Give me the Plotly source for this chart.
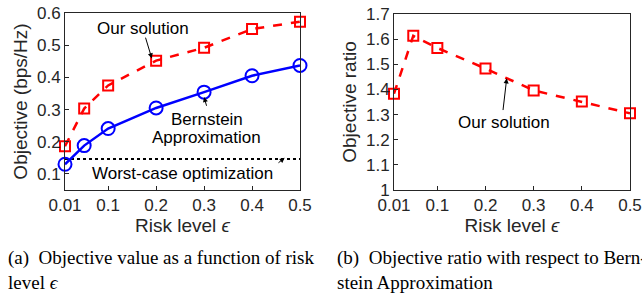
import plotly.graph_objects as go

# ---- data ----
risk_levels = [0.01, 0.05, 0.1, 0.2, 0.3, 0.4, 0.5]
our_solution = [0.186, 0.303, 0.375, 0.452, 0.492, 0.550, 0.573]
bernstein = [0.130, 0.188, 0.241, 0.305, 0.354, 0.405, 0.437]
worst_case_eps = [0.01, 0.5]
worst_case = [0.146, 0.146]
objective_ratio = [1.383, 1.613, 1.565, 1.483, 1.396, 1.352, 1.305]
x_tick_vals = [0.01, 0.1, 0.2, 0.3, 0.4, 0.5]
x_tick_text = ["0.01", "0.1", "0.2", "0.3", "0.4", "0.5"]
y1_tick_vals = [0.1, 0.2, 0.3, 0.4, 0.5, 0.6]
y2_tick_vals = [1.0, 1.1, 1.2, 1.3, 1.4, 1.5, 1.6, 1.7]
y2_tick_text = ["1", "1.1", "1.2", "1.3", "1.4", "1.5", "1.6", "1.7"]

RED = "#FF0000"
BLUE = "#0000FF"
AX = "#262626"
SANS = "Liberation Sans, Arial, sans-serif"
SERIF = "Liberation Serif, Times New Roman, serif"

fig = go.Figure()

fig.add_trace(go.Scatter(x=worst_case_eps, y=worst_case, mode="lines",
                         line=dict(color="black", width=2, dash="dot"),
                         xaxis="x", yaxis="y", showlegend=False))
fig.add_trace(go.Scatter(x=risk_levels, y=our_solution, mode="lines+markers",
                         line=dict(color=RED, width=2.5, dash="dash"),
                         marker=dict(symbol="square-open", size=10, color=RED,
                                     line=dict(width=2, color=RED)),
                         cliponaxis=False, xaxis="x", yaxis="y", showlegend=False))
fig.add_trace(go.Scatter(x=risk_levels, y=bernstein, mode="lines+markers",
                         line=dict(color=BLUE, width=2.5),
                         marker=dict(symbol="circle-open", size=13, color=BLUE,
                                     line=dict(width=2, color=BLUE)),
                         cliponaxis=False, xaxis="x", yaxis="y", showlegend=False))
fig.add_trace(go.Scatter(x=risk_levels, y=objective_ratio, mode="lines+markers",
                         line=dict(color=RED, width=2.5, dash="dash"),
                         marker=dict(symbol="square-open", size=10, color=RED,
                                     line=dict(width=2, color=RED)),
                         cliponaxis=False, xaxis="x2", yaxis="y2", showlegend=False))

axis_common = dict(showline=True, linecolor=AX, linewidth=1, mirror=True, automargin=False,
                   ticks="inside", ticklen=4, tickcolor=AX, showgrid=False,
                   zeroline=False, tickfont=dict(family=SANS, size=17, color=AX))
title_font = dict(family=SANS, size=19, color=AX)

fig.update_layout(
    width=642, height=296,
    margin=dict(l=0, r=0, t=0, b=0),
    paper_bgcolor="white", plot_bgcolor="white",
    xaxis=dict(domain=[65/642, 300/642], range=[0.01, 0.5], anchor="y",
               tickvals=x_tick_vals, ticktext=x_tick_text,
               title=dict(text="Risk level <i>ϵ</i>", font=title_font, standoff=2),
               **axis_common),
    yaxis=dict(domain=[1-190/296, 1-13/296], range=[0.05, 0.6], anchor="x",
               tickvals=y1_tick_vals,
               title=dict(text="Objective (bps/Hz)", font=title_font, standoff=4),
               **axis_common),
    xaxis2=dict(domain=[394/642, 630/642], range=[0.01, 0.5], anchor="y2",
                tickvals=x_tick_vals, ticktext=x_tick_text,
                title=dict(text="Risk level <i>ϵ</i>", font=title_font, standoff=2),
                **axis_common),
    yaxis2=dict(domain=[1-190/296, 1-14/296], range=[1.0, 1.7], anchor="x2",
                tickvals=y2_tick_vals, ticktext=y2_tick_text,
                title=dict(text="Objective ratio", font=title_font, standoff=4),
                **axis_common),
)

arrow = dict(showarrow=True, arrowhead=2, arrowsize=1, arrowwidth=1, arrowcolor="black",
             text="", axref="x", ayref="y")
fig.add_annotation(x=0.191, y=0.459, ax=0.177, ay=0.528, xref="x", yref="y", **arrow)
fig.add_annotation(x=0.300, y=0.339, ax=0.306, ay=0.307, xref="x", yref="y", **arrow)
fig.add_annotation(x=0.468, y=0.150, ax=0.452, ay=0.131, xref="x", yref="y", **arrow)
arrow2 = dict(arrow)
arrow2.update(axref="x2", ayref="y2")
fig.add_annotation(x=0.244, y=1.444, ax=0.236, ay=1.312, xref="x2", yref="y2", **arrow2)

lbl = dict(showarrow=False, font=dict(family=SANS, size=17, color="black"))
fig.add_annotation(x=0.1725, y=0.553, text="Our solution", xref="x", yref="y", **lbl)
fig.add_annotation(x=0.306, y=0.269, text="Bernstein", xref="x", yref="y", **lbl)
fig.add_annotation(x=0.306, y=0.213, text="Approximation", xref="x", yref="y", **lbl)
fig.add_annotation(x=0.254, y=0.100, text="Worst-case optimization", xref="x", yref="y", **lbl)
fig.add_annotation(x=0.238, y=1.268, text="Our solution", xref="x2", yref="y2", **lbl)

cap = dict(showarrow=False, xref="paper", yref="paper", xanchor="left", yanchor="middle",
           font=dict(family=SERIF, size=19, color="black"))
fig.add_annotation(x=6/642, y=1-258/296, text="(a)  Objective value as a function of risk", **cap)
fig.add_annotation(x=6/642, y=1-282/296, text="level <i>ϵ</i>", **cap)
fig.add_annotation(x=335/642, y=1-258/296, text="(b)  Objective ratio with respect to Bern-", **cap)
fig.add_annotation(x=335/642, y=1-282/296, text="stein Approximation", **cap)

fig.write_html("out.html", config={"displayModeBar": False},
               post_script="document.body.style.margin='0';")
